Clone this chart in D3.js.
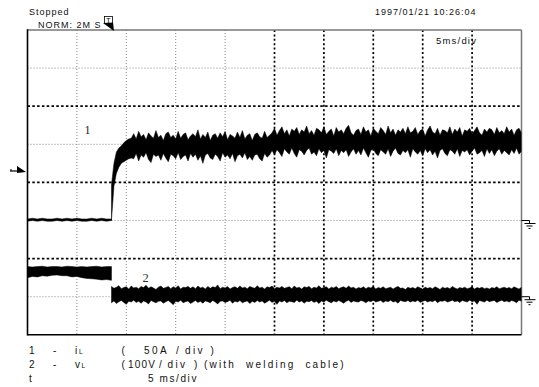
<!DOCTYPE html>
<html><head><meta charset="utf-8">
<script src="https://cdn.jsdelivr.net/npm/d3@7"></script>
<style>body{margin:0;background:#fff}svg{display:block}</style>
</head><body>
<svg id="c" width="539" height="387"></svg>
<script>
// ---- data (time in ms relative to trigger) ----
const preStepMs = 0.5;     // sampling of pre-trigger envelopes
const postStepMs = 0.25;   // sampling of post-trigger envelopes
const timeDomainMs = [-8.5, 41.5];
const preStartMs = -8.5;
const postStartMs = 0;
const xDivisions = 10;
const yDivisions = 8;
const ampsPerDiv = 50;
const voltsPerDiv = 100;

// Channel 1: inductor current iL (A), envelope max/min
const ch1PreMax = [2,3,2,3,2,2,3,2,3,2,3,2,2,3,2,3,2,2];
const ch1PreMin = [-1,0,-1,0,-1,-1,0,-1,0,-1,0,-1,-1,0,-1,0,-1,0];
const ch1PostMax = [47,75,90,95,98,102,105,107,108,
  114,107,117,110,113,106,115,111,108,118,109,112,105,114,116,109,112,107,117,108,
  113,115,106,111,114,110,119,107,113,109,116,105,112,114,108,115,110,117,106,113,
  111,108,116,109,118,107,112,114,105,113,115,110,108,117,109,112,
  115,121,112,118,123,114,119,111,120,117,122,113,119,116,124,114,118,112,121,119,
  115,123,113,117,120,111,122,116,119,114,121,125,115,112,118,120,113,123,116,119,
  111,121,117,114,122,118,113,124,115,120,112,119,116,121,114,123,115,117,122,113,
  118,120,111,119,124,116,114,121,112,119,118,115,123,113,120,116,122,111,119,117,
  121,114,118,123,115,112,120,116,121,119,113,122,115,118,114,123,116,120,112,119,
  121,115];
const ch1PostMin = [0,45,62,70,75,77,79,81,82,
  81,88,78,86,83,89,80,76,87,84,86,79,88,82,77,87,85,81,89,80,
  84,86,78,88,83,87,79,85,75,86,88,82,80,87,84,78,89,83,86,81,
  88,77,85,87,82,89,80,84,79,86,87,81,78,88,83,86,
  92,86,93,89,84,94,90,87,95,88,83,93,91,86,92,95,87,90,85,94,
  89,92,82,93,91,88,94,85,92,89,93,84,90,94,87,92,86,95,89,83,
  92,94,88,85,93,90,87,94,84,91,95,88,86,92,89,93,83,94,90,87,
  92,85,94,89,93,86,91,82,92,94,88,85,93,91,87,94,84,92,90,93,
  86,91,95,87,89,92,84,94,88,93,85,91,94,87,92,89,86,93,88,95,
  87,91];

// Channel 2: load voltage vL (V), envelope max/min
const ch2PreMax = [79,78,79,80,78,79,79,78,80,79,78,79,78,79,80,78,79,79];
const ch2PreMin = [50,53,52,55,54,56,57,55,55,52,53,50,48,47,46,44,45,43];
const ch2PostMax = [27,22,25,29,21,24,26,20,28,23,25,21,27,24,30,22,26,23,19,25,
  28,22,24,27,21,26,23,29,20,25,24,27,22,26,21,28,23,25,20,27,
  22,26,24,31,21,25,23,27,20,24,26,22,28,23,25,21,27,24,22,29,
  23,25,20,26,24,28,21,25,23,27,22,24,26,21,28,23,25,20,26,24,
  27,21,25,23,29,22,24,26,20,25,23,27,21,24,26,22,28,23,25,20,
  24,22,26,21,25,23,27,20,24,22,26,21,23,25,20,24,27,22,23,19,
  25,22,24,21,26,23,20,25,22,24,21,26,23,19,25,22,24,21,27,23,
  20,24,22,25,21,23,26,20,24,22,25,21,23,20,24,22,26,21,23,25,
  22,24,21,26,23,20,25];
const ch2PostMin = [-16,-11,-18,-13,-10,-15,-20,-12,-14,-9,-15,-12,-17,-11,-14,-19,-10,-13,-16,-12,
  -11,-17,-13,-10,-15,-21,-12,-14,-9,-16,-13,-11,-18,-14,-10,-15,-12,-17,-11,-13,
  -16,-10,-14,-19,-12,-11,-15,-13,-9,-17,-12,-14,-10,-16,-13,-11,-18,-12,-15,-10,
  -14,-11,-17,-13,-9,-15,-12,-20,-11,-14,-10,-16,-12,-13,-15,-9,-14,-11,-17,-12,
  -13,-10,-15,-12,-18,-11,-14,-9,-13,-16,-11,-14,-10,-13,-17,-12,-9,-15,-11,-13,
  -14,-10,-12,-16,-11,-13,-9,-14,-12,-10,-15,-11,-13,-9,-14,-12,-17,-10,-12,-13,
  -10,-14,-11,-13,-9,-15,-12,-10,-14,-11,-13,-9,-16,-11,-12,-10,-14,-12,-9,-13,
  -11,-15,-10,-12,-14,-9,-13,-11,-20,-10,-12,-14,-9,-13,-11,-10,-15,-12,-9,-13,
  -11,-14,-10,-12,-16,-9,-12];

const headerTexts = ["Stopped", "NORM: 2M S", "1997/01/21 10:26:04", "5ms/div"];
const legendNums = ["1", "2", "t"];
const legendSyms = ["i", "v", ""];
const legendScales = [["(", "50A", "/", "div", ")"], ["(", "100V", "/", "div", ")"], ["5 ms/div"]];
const legendNote = "(with welding cable)";

// ---- layout ----
const L = 27.5, R = 521.5, T = 30, B = 334.8;
const svg = d3.select("#c");
const x = d3.scaleLinear().domain(timeDomainMs).range([L, R]);
const gx = d3.scaleLinear().domain([0, xDivisions]).range([L, R]);
const gy = d3.scaleLinear().domain([0, yDivisions]).range([T, B]);
const divH = (B - T) / yDivisions;
const yI = d3.scaleLinear().domain([0, ampsPerDiv]).range([gy(5), gy(5) - divH]);
const yV = d3.scaleLinear().domain([0, voltsPerDiv]).range([gy(7), gy(7) - divH]);

// grid
const grid = svg.append("g");
d3.range(1, xDivisions).forEach(i => {
  const heavy = i >= 5;
  grid.append("line").attr("x1", gx(i)).attr("x2", gx(i)).attr("y1", T).attr("y2", B)
    .attr("stroke", heavy ? "#000" : "#888").attr("stroke-width", heavy ? 1.7 : 1)
    .attr("stroke-dasharray", heavy ? "2,2.4" : "1,2");
});
d3.range(1, yDivisions).forEach(i => {
  const heavy = i % 2 === 0;
  grid.append("line").attr("y1", gy(i)).attr("y2", gy(i)).attr("x1", L).attr("x2", R)
    .attr("stroke", heavy ? "#000" : "#888").attr("stroke-width", heavy ? 1.7 : 1)
    .attr("stroke-dasharray", heavy ? "2.5,2.3" : "1,2");
});

// frame
svg.append("line").attr("x1", L).attr("x2", R).attr("y1", T).attr("y2", T).attr("stroke", "#777").attr("stroke-width", 1.5);
svg.append("line").attr("x1", R).attr("x2", R).attr("y1", T).attr("y2", B).attr("stroke", "#777").attr("stroke-width", 1.5);
svg.append("line").attr("x1", L).attr("x2", L).attr("y1", T - 0.7).attr("y2", B + 0.7).attr("stroke", "#000").attr("stroke-width", 1.6);
svg.append("line").attr("x1", L).attr("x2", R).attr("y1", B).attr("y2", B).attr("stroke", "#000").attr("stroke-width", 1.6);

// traces
svg.append("clipPath").attr("id", "clip").append("rect").attr("x", L).attr("y", T).attr("width", R - L).attr("height", B - T);
const traces = svg.append("g").attr("clip-path", "url(#clip)");
function band(maxArr, minArr, t0, step, yScale) {
  const pts = maxArr.map((v, i) => ({t: t0 + i * step, hi: v, lo: minArr[i]}));
  const area = d3.area().x(d => x(d.t)).y0(d => yScale(d.lo)).y1(d => yScale(d.hi));
  traces.append("path").attr("d", area(pts)).attr("fill", "#000").attr("stroke", "#000").attr("stroke-width", 0.5);
}
band(ch1PreMax, ch1PreMin, preStartMs, preStepMs, yI);
band(ch1PostMax, ch1PostMin, postStartMs, postStepMs, yI);
band(ch2PreMax, ch2PreMin, preStartMs, preStepMs, yV);
band(ch2PostMax, ch2PostMin, postStartMs, postStepMs, yV);

// channel labels inside plot
svg.append("text").attr("x", 84.5).attr("y", 134).attr("font-family", "Liberation Serif, serif").attr("font-size", 12).attr("fill", "#222").text("1");
svg.append("text").attr("x", 142.5).attr("y", 282).attr("font-family", "Liberation Serif, serif").attr("font-size", 12.5).attr("fill", "#333").text("2");

// ground markers on the right
[yI(0), yV(0)].forEach(g => {
  svg.append("path").attr("d", `M${R},${g}H${R + 8}V${g + 3}M${R + 3},${g + 3}H${R + 14}M${R + 5},${g + 5.5}H${R + 11}M${R + 7},${g + 8}H${R + 9}`)
    .attr("fill", "none").attr("stroke", "#000").attr("stroke-width", 1);
});

// channel 1 level marker on the left
const lvl = 171;
svg.append("path").attr("d", `M10,${lvl}H18`).attr("stroke", "#000").attr("stroke-width", 1.2);
svg.append("path").attr("d", `M11,${lvl - 2}V${lvl}`).attr("stroke", "#000").attr("stroke-width", 1);
svg.append("path").attr("d", `M17,${lvl - 5}L26,${lvl + 1}L17,${lvl + 2}Z`).attr("fill", "#000");

// trigger marker on top
svg.append("rect").attr("x", 104.5).attr("y", 16.5).attr("width", 8).attr("height", 7).attr("fill", "#fff").attr("stroke", "#000").attr("stroke-width", 0.8);
svg.append("text").attr("x", 108.5).attr("y", 22.5).attr("text-anchor", "middle").attr("font-family", "Liberation Sans, Arial").attr("font-size", 7).text("T");
svg.append("path").attr("d", "M103,23L113,22.5L114,31Z").attr("fill", "#000");

// texts
const sans = "Liberation Sans, Arial, sans-serif";
function txt(xp, yp, s, size, ls) {
  return svg.append("text").attr("x", xp).attr("y", yp).attr("font-family", sans)
    .attr("font-size", size).attr("letter-spacing", ls).attr("fill", "#111")
    .style("white-space", "pre").text(s);
}
txt(29, 15, headerTexts[0], 9, 1);
txt(38, 27.5, headerTexts[1], 9, 1);
txt(375, 15, headerTexts[2], 9, 1);
txt(436, 43.5, headerTexts[3], 9.5, 1.2);

// legend
const rowY = [353.5, 367.5, 381.5];
legendNums.forEach((n, i) => {
  const yb = rowY[i];
  txt(29, yb, n, 10, 1);
  if (legendSyms[i]) {
    txt(53, yb, "-", 10, 1);
    txt(75, yb, legendSyms[i], 10, 1);
    txt(legendSyms[i] === "i" ? 79 : 81.5, yb, "L", 6.5, 0.5);
  }
});
const s0 = legendScales[0], s1 = legendScales[1];
txt(121.5, rowY[0], s0[0], 10, 1);
txt(144, rowY[0], s0[1], 10, 2.4);
txt(176, rowY[0], s0[2], 10, 1);
txt(185, rowY[0], s0[3], 10, 2.4);
txt(210.5, rowY[0], s0[4], 10, 1);
txt(121.5, rowY[1], s1[0], 10, 1);
txt(128, rowY[1], s1[1], 10, 1.2);
txt(159, rowY[1], s1[2], 10, 1);
txt(167.5, rowY[1], s1[3], 10, 2.4);
txt(194, rowY[1], s1[4], 10, 1);
txt(204, rowY[1], legendNote, 10, 2.2).attr("word-spacing", 5);
txt(148, rowY[2], legendScales[2][0], 10, 1.6);
</script>
</body></html>
